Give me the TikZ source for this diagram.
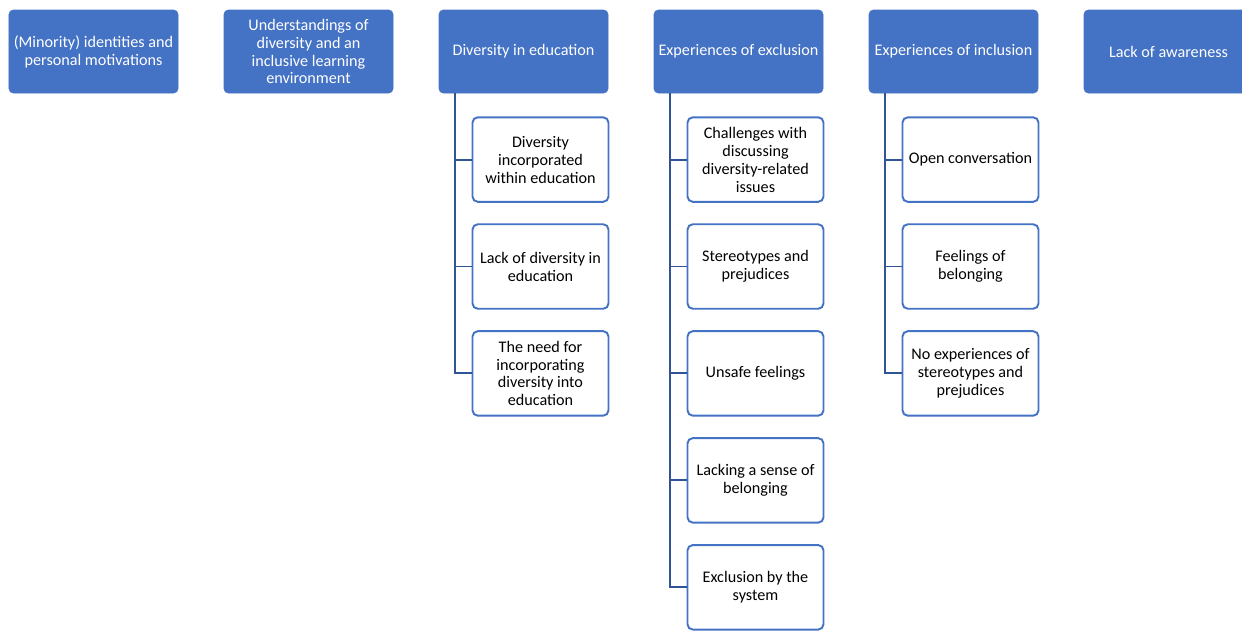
\documentclass[tikz,border=0pt]{standalone}
\usepackage{fontspec}
\setmainfont{Carlito}
\usepackage{xcolor}
\usetikzlibrary{positioning,calc}
\definecolor{themeblue}{HTML}{4472C4}
\definecolor{linkblue}{HTML}{2F5597}
\tikzset{
  theme/.style  = {rectangle, rounded corners=2.5pt, fill=themeblue, draw=themeblue,
                   text=white, align=center, minimum width=3.38cm, minimum height=1.66cm,
                   inner sep=1pt, font=\fontsize{9.2}{10.2}\selectfont},
  sub/.style    = {rectangle, rounded corners=3pt, fill=white, draw=themeblue,
                   line width=1.1pt, text=black, align=center, minimum width=2.72cm,
                   minimum height=1.69cm, inner sep=1pt, font=\fontsize{9.2}{10.2}\selectfont},
  link/.style   = {draw=linkblue, line width=1.1pt}
}
\begin{document}
\begin{tikzpicture}
\useasboundingbox (0,0) rectangle (24.84,-12.6);

% --- main themes ---
\node[theme] (t1) at (1.87,-1.03)  {(Minority) identities and\\personal motivations};
\node[theme] (t2) at (6.17,-1.03)  {Understandings of\\diversity and an\\inclusive learning\\environment};
\node[theme] (t3) at (10.47,-1.03) {Diversity in education};
\node[theme] (t4) at (14.77,-1.03) {Experiences of exclusion};
\node[theme] (t5) at (19.07,-1.03) {Experiences of inclusion};
\node[theme] (t6) at (23.37,-1.03) {Lack of awareness};

% --- diversity in education ---
\node[sub, below=0.46cm of t3, xshift=0.34cm] (e1) {Diversity\\incorporated\\within education};
\node[sub, below=0.41cm of e1] (e2) {Lack of diversity in\\education};
\node[sub, below=0.41cm of e2] (e3) {The need for\\incorporating\\diversity into\\education};

% --- experiences of exclusion ---
\node[sub, below=0.46cm of t4, xshift=0.34cm] (x1) {Challenges with\\discussing\\diversity-related\\issues};
\node[sub, below=0.41cm of x1] (x2) {Stereotypes and\\prejudices};
\node[sub, below=0.41cm of x2] (x3) {Unsafe feelings};
\node[sub, below=0.41cm of x3] (x4) {Lacking a sense of\\belonging};
\node[sub, below=0.41cm of x4] (x5) {Exclusion by the\\system};

% --- experiences of inclusion ---
\node[sub, below=0.46cm of t5, xshift=0.34cm] (i1) {Open conversation};
\node[sub, below=0.41cm of i1] (i2) {Feelings of\\belonging};
\node[sub, below=0.41cm of i2] (i3) {No experiences of\\stereotypes and\\prejudices};

% --- tree connectors ---
\foreach \t/\list in {t3/{e1,e2,e3}, t4/{x1,x2,x3,x4,x5}, t5/{i1,i2,i3}} {
  \coordinate (\t spine) at ($(\t.south west)+(0.32,0)$);
  \foreach \c in \list {
    \draw[link] (\t spine) |- (\c.west);
  }
}

\end{tikzpicture}
\end{document}
